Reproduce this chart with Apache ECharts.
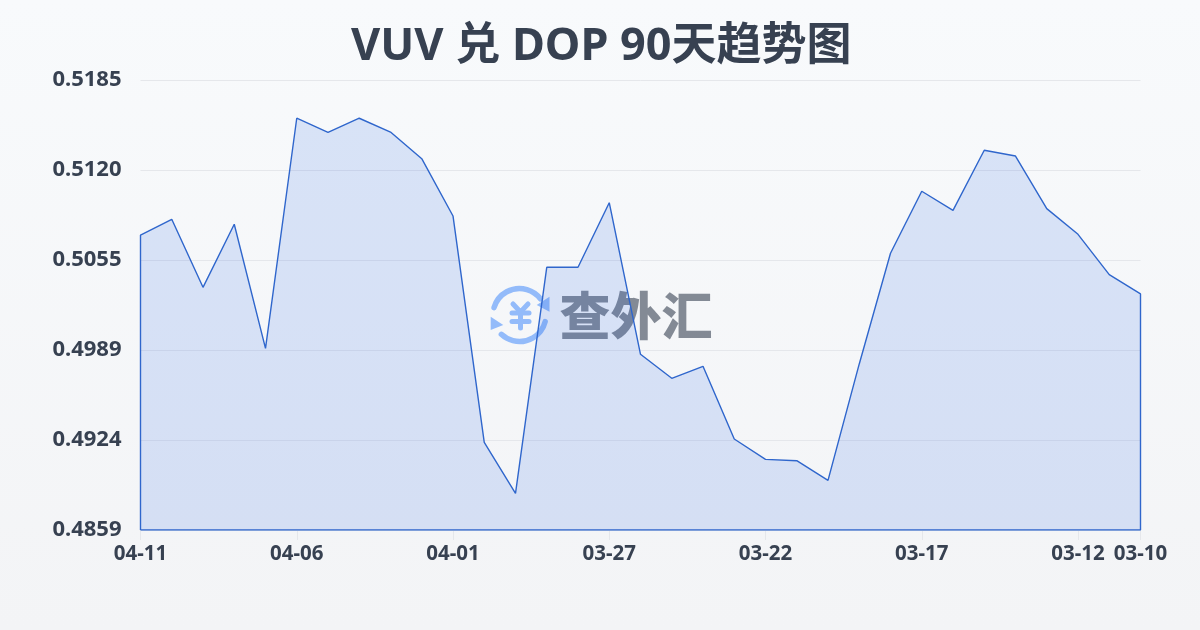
<!DOCTYPE html>
<html>
<head>
<meta charset="utf-8">
<style>html,body{margin:0;padding:0;background:#f8fafc}#c{width:1200px;height:630px}</style>
<script src="https://cdn.jsdelivr.net/npm/echarts@6/dist/echarts.min.js"></script>
</head>
<body>
<div id="c"></div>
<script>
const titleText = 'VUV 兑 DOP 90天趋势图';
const dates = ['04-11','04-10','04-09','04-08','04-07','04-06','04-05','04-04','04-03','04-02','04-01',
  '03-31','03-30','03-29','03-28','03-27','03-26','03-25','03-24','03-23','03-22',
  '03-21','03-20','03-19','03-18','03-17','03-16','03-15','03-14','03-13','03-12','03-11','03-10'];
const rates = [0.50727,0.50841,0.50348,0.50805,0.49906,0.51573,0.51471,0.51573,0.51473,0.51280,0.50865,
  0.49225,0.48856,0.50493,0.50493,0.50961,0.49863,0.49689,0.49776,0.49249,0.49102,
  0.49092,0.48950,0.49793,0.50595,0.51044,0.50906,0.51341,0.51299,0.50918,0.50732,0.50440,0.50300];
const yTicks = [0.4859,0.49242,0.49894,0.50546,0.51198,0.5185];
const xTickIndex = [0,5,10,15,20,25,30,32];
const yMin = yTicks[0], yMax = yTicks[yTicks.length-1];

// The outline runs around the whole filled shape, so the line starts and ends on the baseline.
const outline = [[0,yMin]].concat(rates.map((v,i)=>[i,v]), [[rates.length-1,yMin],[0,yMin]]);

const logoBlue = '#93bbfa';
const chart = echarts.init(document.getElementById('c'), null, {renderer:'canvas'});
chart.setOption({
  animation:false,
  backgroundColor:{type:'linear',x:0,y:0,x2:0,y2:1,colorStops:[{offset:0,color:'#f8fafc'},{offset:1,color:'#f3f4f6'}]},
  title:{text:titleText,left:351,top:25,padding:0,textStyle:{fontFamily:'"Noto Sans","Noto Sans CJK SC",sans-serif',fontSize:45,fontWeight:700,color:'#374151'}},
  grid:{left:140.5,right:59.5,top:80,bottom:100},
  xAxis:{type:'value',min:0,max:rates.length-1,
    axisLine:{show:false},
    axisTick:{show:true,length:10,customValues:xTickIndex,lineStyle:{color:'#e5e7eb',width:1}},
    splitLine:{show:false},
    axisLabel:{customValues:xTickIndex,formatter:v=>dates[v],margin:14,fontFamily:'"Noto Sans",sans-serif',fontSize:20.5,fontWeight:700,color:'#374151'}},
  yAxis:{type:'value',min:yMin,max:yMax,
    axisLine:{show:false},
    axisTick:{show:false,customValues:yTicks},
    splitLine:{show:true,lineStyle:{color:'#e5e7eb',width:1}},
    axisLabel:{customValues:yTicks,formatter:v=>v.toFixed(4),margin:19,padding:[2,0,0,0],fontFamily:'"Noto Sans",sans-serif',fontSize:22,fontWeight:700,color:'#374151'}},
  series:[{type:'line',data:outline,showSymbol:false,symbol:'none',smooth:false,
    lineStyle:{color:'#2f66cc',width:1.4},
    areaStyle:{color:'rgba(37,99,228,0.15)',opacity:1,origin:'start'},z:2}],
  graphic:[{type:'group',z:100,silent:true,children:[
    {type:'arc',shape:{cx:519.5,cy:315,r:26.5,startAngle:Math.PI*1.09,endAngle:Math.PI*1.79,clockwise:true},style:{fill:null,stroke:logoBlue,lineWidth:5.5,lineCap:'round'}},
    {type:'arc',shape:{cx:519.5,cy:315,r:26.5,startAngle:Math.PI*0.08,endAngle:Math.PI*0.74,clockwise:true},style:{fill:null,stroke:logoBlue,lineWidth:5.5,lineCap:'round'}},
    {type:'polygon',shape:{points:[[549.5,296.7],[536.7,305],[549.5,311.7]]},style:{fill:logoBlue}},
    {type:'polygon',shape:{points:[[490.7,316.7],[503.3,325],[490.7,330]]},style:{fill:logoBlue}},
    {type:'polyline',shape:{points:[[513,304],[520.5,312],[528,304]]},style:{fill:null,stroke:logoBlue,lineWidth:5,lineCap:'round',lineJoin:'round'}},
    {type:'polyline',shape:{points:[[512,313],[529,313]]},style:{fill:null,stroke:logoBlue,lineWidth:5,lineCap:'round'}},
    {type:'polyline',shape:{points:[[512,321.5],[529,321.5]]},style:{fill:null,stroke:logoBlue,lineWidth:5,lineCap:'round'}},
    {type:'polyline',shape:{points:[[520.5,312],[520.5,328]]},style:{fill:null,stroke:logoBlue,lineWidth:5,lineCap:'round'}},
    {type:'text',style:{x:636,y:315.5,text:'查外汇',fill:'rgba(55,65,81,0.6)',font:'900 51px "Noto Sans CJK SC"',align:'center',verticalAlign:'middle'}}
  ]}]
});
</script>
</body>
</html>
